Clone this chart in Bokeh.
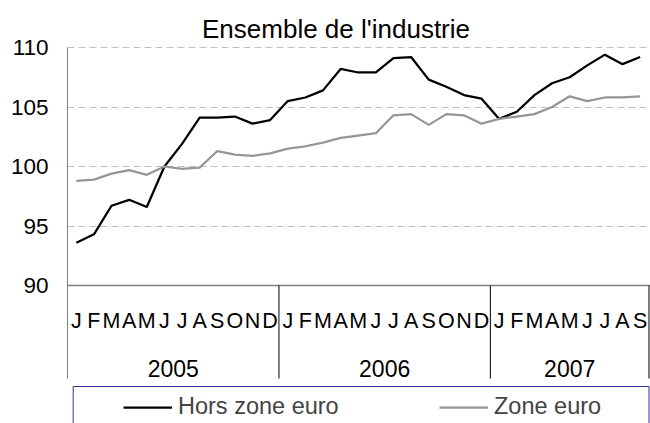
from bokeh.plotting import figure
from bokeh.models import Range1d, FixedTicker, Legend, LegendItem
from bokeh.core.properties import value
from bokeh.embed import file_html
from bokeh.resources import INLINE

# ---------------- data ----------------
title_text = "Ensemble de l'industrie"
years = ["2005", "2006", "2007"]
months_per_year = [12, 12, 9]
month_letters = ["J", "F", "M", "A", "M", "J", "J", "A", "S", "O", "N", "D"]
hors_zone = [93.6, 94.3, 96.7, 97.2, 96.6, 100.0, 101.9, 104.1, 104.1, 104.2, 103.6, 103.9,
             105.5, 105.8, 106.4, 108.2, 107.9, 107.9, 109.1, 109.2, 107.3, 106.7, 106.0, 105.7,
             104.0, 104.6, 106.0, 107.0, 107.5, 108.5, 109.4, 108.6, 109.2]
zone_euro = [98.8, 98.9, 99.4, 99.7, 99.3, 100.0, 99.8, 99.9, 101.3, 101.0, 100.9, 101.1,
             101.5, 101.7, 102.0, 102.4, 102.6, 102.8, 104.3, 104.4, 103.5, 104.4, 104.3, 103.6,
             104.0, 104.2, 104.4, 105.0, 105.9, 105.5, 105.8, 105.8, 105.9]
y_ticks = [90, 95, 100, 105, 110]
series_names = ["Hors zone euro", "Zone euro"]

# ---------------- derived ----------------
n = len(hors_zone)
xs = [i + 0.5 for i in range(n)]
month_labels = []
for cnt in months_per_year:
    month_labels += month_letters[:cnt]
bounds = [0]
for cnt in months_per_year:
    bounds.append(bounds[-1] + cnt)
year_centers = [(bounds[i] + bounds[i + 1]) / 2 for i in range(len(years))]

FONT = "Liberation Sans"
W, H = 650, 423
LEFT = 67
PX_PER_UNIT = 11.9
PX_PER_MONTH = 17.62
Y_TOP_PIX = 47  # pixel row of the 110 gridline

def ypix(page_y):
    return y_ticks[-1] - (page_y - Y_TOP_PIX) / PX_PER_UNIT

def xpix(page_x):
    return (page_x - LEFT) / PX_PER_MONTH

y_hi = ypix(0)
y_lo = ypix(H)
x_hi = xpix(W)

p = figure(width=W, height=H, output_backend="svg", toolbar_location=None,
           x_range=Range1d(0, x_hi), y_range=Range1d(y_lo, y_hi),
           x_axis_type=None, min_border_left=LEFT, min_border_top=0,
           min_border_right=0, min_border_bottom=0)
p.outline_line_color = None
p.background_fill_color = "white"
p.border_fill_color = "white"
p.xgrid.visible = False

p.yaxis.ticker = FixedTicker(ticks=y_ticks)
p.yaxis.axis_line_color = None
p.yaxis.major_tick_line_color = None
p.yaxis.minor_tick_line_color = None
p.yaxis.major_tick_out = 0
p.yaxis.major_tick_in = 0
p.yaxis.major_label_standoff = 19
p.yaxis.major_label_text_font = FONT
p.yaxis.major_label_text_font_size = "22.5px"
p.yaxis.major_label_text_color = "black"

p.ygrid.ticker = FixedTicker(ticks=y_ticks[1:])
p.ygrid.grid_line_color = "#c0c0c0"
p.ygrid.grid_line_dash = "7 4"
p.ygrid.grid_line_width = 1

# x axis baseline at 90
p.segment(x0=[0], y0=[y_ticks[0]], x1=[x_hi], y1=[y_ticks[0]],
          line_color="#808080", line_width=1.5)

# y axis line and year separators
y_sep_bottom = ypix(378)
p.segment(x0=[0], y0=[y_ticks[-1]], x1=[0], y1=[y_sep_bottom], line_color="black", line_width=1)
sep_x = bounds[1:]
p.segment(x0=sep_x, y0=[y_ticks[0]] * len(sep_x), x1=sep_x, y1=[y_sep_bottom] * len(sep_x),
          line_color="black", line_width=1)

# month labels & year labels
p.text(x=xs, y=[ypix(320.5)] * n, text=month_labels, text_align="center",
       text_baseline="middle", text_font=value(FONT), text_font_size="21.5px", text_color="black")
p.text(x=year_centers, y=[ypix(367.5)] * len(years), text=years, text_align="center",
       text_baseline="middle", text_font=value(FONT), text_font_size="23px", text_color="black")

# series
r1 = p.line(xs, hors_zone, line_color="black", line_width=2.25)
r2 = p.line(xs, zone_euro, line_color="#969696", line_width=2.25)

# title
p.text(x=[xpix(335.5)], y=[ypix(28)], text=[title_text], text_align="center",
       text_baseline="middle", text_font=value(FONT), text_font_size="26px", text_color="black")

# legend frame
p.quad(left=[xpix(72.7)], right=[xpix(648.5)], top=[ypix(386)],
       bottom=[y_lo - 5], fill_color=None, line_color="#333399", line_width=1)

legend = Legend(items=[LegendItem(label=series_names[0], renderers=[r1]),
                       LegendItem(label=series_names[1], renderers=[r2])],
                orientation="horizontal", location=(123 - LEFT, H - 420),
                label_text_font=FONT, label_text_font_size="23.5px",
                glyph_width=49, glyph_height=20, label_height=20, label_standoff=6,
                spacing=0, label_width=261, padding=0, margin=0,
                border_line_color=None, background_fill_alpha=0)
p.add_layout(legend)

open("out.html", "w").write(file_html(p, INLINE))
